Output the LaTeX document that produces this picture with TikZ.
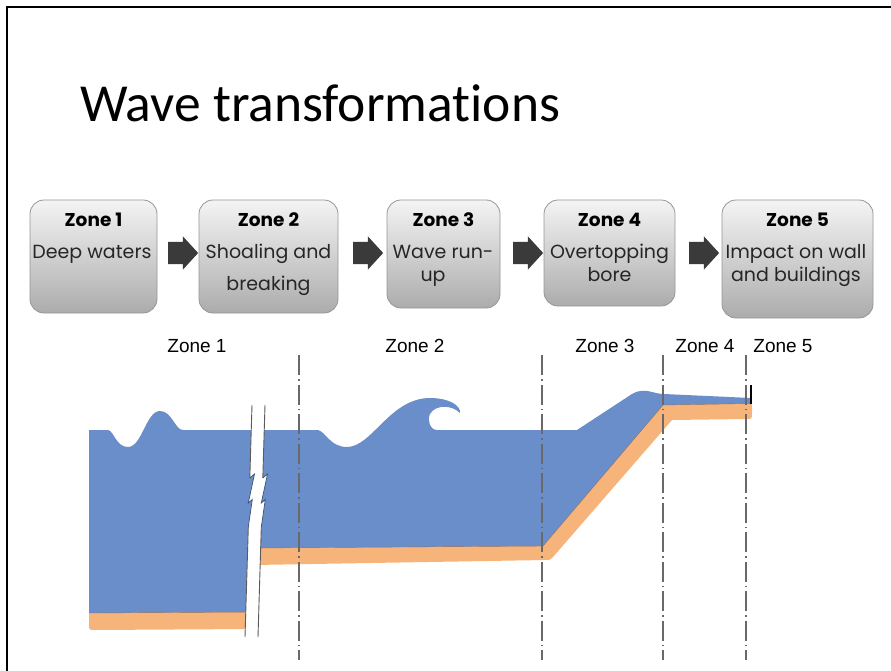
\documentclass[tikz,border=0pt]{standalone}
\usepackage{fontspec}
\setmainfont[Ligatures=NoCommon]{Carlito}
\newfontfamily\boxfont{Poppins}
\newfontfamily\labelfont{Liberation Sans}
\usetikzlibrary{shapes.arrows}

\definecolor{water}{RGB}{106,142,202}
\definecolor{sand}{RGB}{246,180,122}
\definecolor{seam}{RGB}{150,112,92}
\definecolor{arrowgray}{RGB}{58,58,58}
\definecolor{boxedge}{RGB}{150,150,150}
\definecolor{boxtop}{RGB}{244,244,244}
\definecolor{boxmid}{RGB}{226,226,226}
\definecolor{boxbot}{RGB}{172,172,172}
\definecolor{guide}{RGB}{105,105,105}
\definecolor{breakline}{RGB}{90,90,90}

\tikzset{
  zonebox/.style={draw=boxedge, line width=0.8pt, rounded corners=14pt,
    top color=boxtop, middle color=boxmid, bottom color=boxbot, inner sep=0pt},
  boxhead/.style={font=\boxfont\bfseries\fontsize{18.5}{22}\selectfont, anchor=base, inner sep=0pt, text=black},
  boxtext/.style={font=\boxfont\fontsize{19}{22}\selectfont, anchor=base, inner sep=0pt, text=black!85},
  flowarrow/.style={single arrow, fill=arrowgray, draw=none,
    inner xsep=0pt, inner ysep=11pt,
    minimum height=30pt, single arrow head extend=5.5pt,
    single arrow tip angle=95},
  zonelabel/.style={font=\labelfont\fontsize{19}{22}\selectfont, anchor=base, inner sep=0pt},
  guideline/.style={draw=guide, line width=1.1pt, dash pattern=on 20pt off 4pt on 1.5pt off 4pt},
  breakedge/.style={draw=breakline, line width=0.9pt},
  zigedge/.style={draw=water!55!black, line width=0.7pt},
}

\begin{document}
\begin{tikzpicture}[x=1pt, y=-1pt]
\useasboundingbox (0,0) rectangle (891,671);

% slide frame
\draw[line width=2pt] (7,671) -- (7,7) -- (891,7);

% title
\node[anchor=base west, inner sep=0pt, font=\fontsize{53.5}{60}\selectfont] (title) at (80,122) {Wave transformations};

% zone boxes
\node[zonebox, minimum width=127pt, minimum height=113pt] (b1) at (93.5,256.5) {};
\node[zonebox, minimum width=139pt, minimum height=113pt] (b2) at (268.5,256.5) {};
\node[zonebox, minimum width=113pt, minimum height=108pt] (b3) at (443.5,254) {};
\node[zonebox, minimum width=131pt, minimum height=106pt] (b4) at (609.5,253) {};
\node[zonebox, minimum width=151pt, minimum height=118pt] (b5) at (797.5,259) {};

\node[boxhead] (h1) at (93.5,226) {Zone 1};
\node[boxhead] (h2) at (268.5,226) {Zone 2};
\node[boxhead] (h3) at (443.5,226) {Zone 3};
\node[boxhead] (h4) at (609.5,226) {Zone 4};
\node[boxhead] (h5) at (797.5,226) {Zone 5};

\node[boxtext] (t1) at (92,258) {Deep waters};
\node[boxtext] (t2a) at (268.5,258) {Shoaling and};
\node[boxtext] (t2b) at (268.5,290) {breaking};
\node[boxtext] (t3a) at (443,258) {Wave run-};
\node[boxtext] (t3b) at (433,281) {up};
\node[boxtext] (t4a) at (609.5,258) {Overtopping};
\node[boxtext] (t4b) at (609.5,281) {bore};
\node[boxtext] (t5a) at (796,258) {Impact on wall};
\node[boxtext] (t5b) at (796,281) {and buildings};

% arrows between boxes
\node[flowarrow] (a12) at (178,253) {};
\node[flowarrow] (a23) at (363,253) {};
\node[flowarrow] (a34) at (523,253) {};
\node[flowarrow] (a45) at (699,253) {};

% zone labels above the profile
\node[zonelabel] (z1) at (197,352) {Zone 1};
\node[zonelabel] (z2) at (415,352) {Zone 2};
\node[zonelabel] (z3) at (605,352) {Zone 3};
\node[zonelabel] (z4) at (705,352) {Zone 4};
\node[zonelabel] (z5) at (783,352) {Zone 5};

% offshore part: sand bed and water with a small swell
\fill[sand] (89,606) -- (253,606) -- (251.8,629) -- (95,630)
  .. controls (89,630) .. (89,624) -- cycle;
\fill[water] (89,430) -- (108,430)
  .. controls (114,431) and (116,447) .. (128,447)
  .. controls (142,447) and (146,411) .. (160,411)
  .. controls (172,411) and (175,430) .. (183,430)
  -- (257.75,430) -- (252.25,612) -- (89,613) -- cycle;
\draw[seam, line width=0.4pt] (89,613) -- (252.25,612);

% nearshore part: sloping bed, breaking wave, run-up and overtopping
\fill[sand] (254.2,546) -- (543,545) -- (663,404) -- (748,403)
  .. controls (752,403) .. (752,408) -- (752,413)
  .. controls (752,419) .. (746,419) -- (672,420) -- (553,557)
  .. controls (550,560) .. (545,560) -- (253.7,565) -- cycle;
\fill[water] (257.75,430) -- (318,430)
  .. controls (326,432) and (330,447) .. (347,447)
  .. controls (372,447) and (390,398) .. (430,398)
  .. controls (448,398) and (461,405) .. (460,413)
  .. controls (452,405) and (436,404) .. (430,414)
  .. controls (427,420) and (430,430) .. (437,430)
  -- (577,430) -- (632,394)
  .. controls (638,390) and (646,390) .. (652,392)
  .. controls (656,393) and (660,394) .. (664,394)
  -- (751,398) -- (751,403.5) -- (663,405) -- (543,546) -- (254.2,548) -- cycle;
\draw[seam, line width=0.4pt] (254.2,548) -- (543,546) -- (663,405) -- (751,403.5);

% seawall
\draw[line width=2.4pt] (751,385) -- (751,404);

% break in the profile
\fill[white] (252,405) -- (249.8,478) -- (254.5,474) -- (248.3,503) -- (252.3,499.5)
  -- (248.3,527) -- (245,637) -- (258,637) -- (261.3,527) -- (265.3,499.5)
  -- (261.3,503) -- (267.5,474) -- (262.8,478) -- (265,405) -- cycle;
\draw[breakedge] (252,405) -- (249.8,478);
\draw[breakedge] (248.3,527) -- (245,637);
\draw[breakedge] (265,405) -- (262.8,478);
\draw[breakedge] (261.3,527) -- (258,637);
\draw[zigedge] (249.8,478) -- (254.5,474) -- (248.3,503) -- (252.3,499.5) -- (248.3,527);
\draw[zigedge] (262.8,478) -- (267.5,474) -- (261.3,503) -- (265.3,499.5) -- (261.3,527);

% zone boundaries
\draw[guideline] (299,355) -- (299,660);
\draw[guideline] (542,355) -- (542,660);
\draw[guideline] (663,355) -- (663,660);
\draw[guideline] (746,355) -- (746,660);
\end{tikzpicture}
\end{document}
